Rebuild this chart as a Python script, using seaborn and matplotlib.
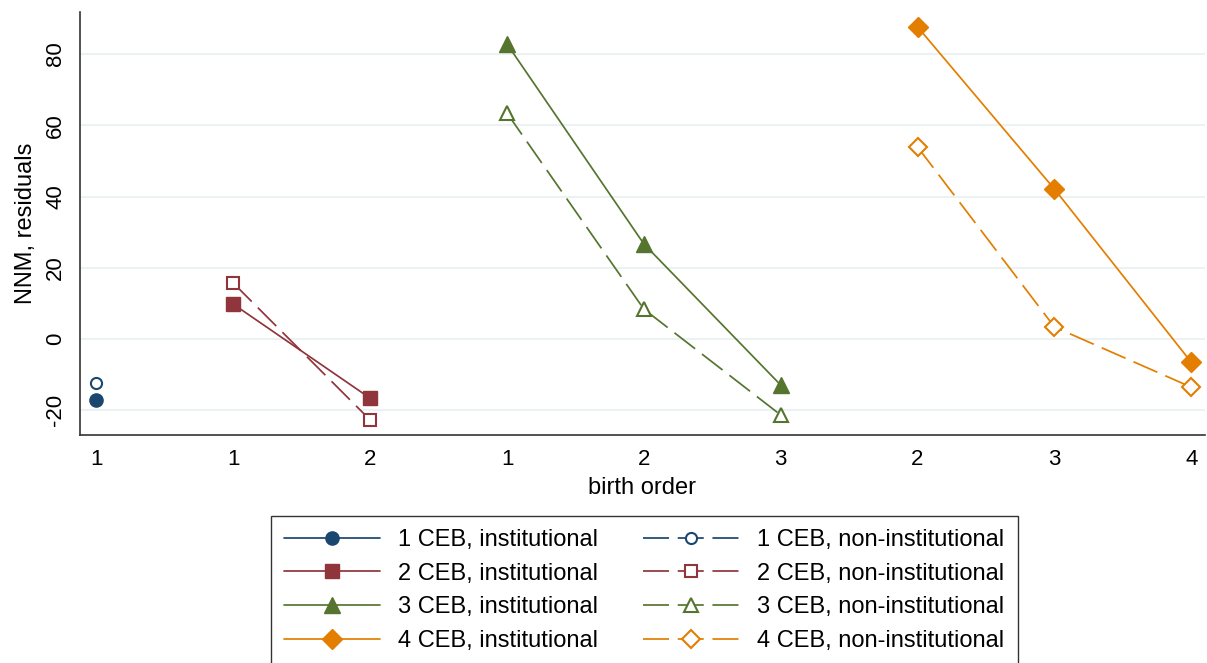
import matplotlib
matplotlib.use("Agg")
import matplotlib.pyplot as plt
import seaborn as sns
import pandas as pd
from matplotlib.lines import Line2D

# birth order labels along the x axis, grouped by number of children ever born (CEB)
ceb_groups = [1, 2, 3, 4]
birth_order = {1: [1], 2: [1, 2], 3: [1, 2, 3], 4: [2, 3, 4]}

# NNM residuals
institutional = {1: [-17.1], 2: [9.8, -16.6], 3: [82.8, 26.7, -12.9], 4: [87.6, 42.1, -6.5]}
non_institutional = {1: [-12.4], 2: [15.7, -22.7], 3: [63.4, 8.4, -21.3], 4: [53.9, 3.4, -13.5]}

tick_labels = [b for g in ceb_groups for b in birth_order[g]]

rows = []
pos = 0
for g in ceb_groups:
    for i, b in enumerate(birth_order[g]):
        rows.append({"ceb": g, "pos": pos, "birth_order": b, "delivery": "institutional",
                     "nnm": institutional[g][i]})
        rows.append({"ceb": g, "pos": pos, "birth_order": b, "delivery": "non-institutional",
                     "nnm": non_institutional[g][i]})
        pos += 1
df = pd.DataFrame(rows)

colors = {1: "#1a476f", 2: "#90353b", 3: "#55752f", 4: "#e37e00"}
markers = {1: "o", 2: "s", 3: "^", 4: "D"}
msize_full = {1: 9.5, 2: 9.5, 3: 11, 4: 10}
msize_open = {1: 8, 2: 8.5, 3: 9.5, 4: 9}
dash = (15, 5)
lw = 1.25

sns.set_style("white")
plt.rcParams["font.family"] = ["Liberation Sans", "DejaVu Sans"]
plt.rcParams["text.color"] = "black"
plt.rcParams["axes.labelcolor"] = "black"
plt.rcParams["xtick.color"] = "black"
plt.rcParams["ytick.color"] = "black"

fig = plt.figure(figsize=(12.07, 6.63), dpi=100)
ax = fig.add_axes([0.0663, 0.344, 0.932, 0.638])

handles = []
labels = []
for g in ceb_groups:
    for kind in ["institutional", "non-institutional"]:
        sub = df[(df.ceb == g) & (df.delivery == kind)]
        filled = kind == "institutional"
        ms = msize_full[g] if filled else msize_open[g]
        style = dict(color=colors[g], lw=lw, marker=markers[g], markersize=ms,
                     markerfacecolor=colors[g] if filled else "white",
                     markeredgecolor=colors[g], markeredgewidth=1.0 if filled else 1.5)
        sns.lineplot(data=sub, x="pos", y="nnm", ax=ax, dashes=False, legend=False,
                     zorder=3, **style)
        if not filled:
            ax.lines[-1].set_dashes(dash)
        h = Line2D([], [], linestyle="-" if filled else (0, dash), **style)
        handles.append(h)
        labels.append(f"{g} CEB, {kind}")

ax.set_xlim(-0.12, 8.1)
ax.set_ylim(-26.9, 91.8)
ax.set_xticks(range(len(tick_labels)))
ax.set_xticklabels([str(t) for t in tick_labels])
ax.set_yticks([-20, 0, 20, 40, 60, 80])
ax.set_yticklabels(["-20", "0", "20", "40", "60", "80"], rotation=90, va="center")
ax.yaxis.grid(True, color="#eaf2f3", lw=1.5)
ax.set_axisbelow(True)
for s in ["top", "right"]:
    ax.spines[s].set_visible(False)
for s in ["left", "bottom"]:
    ax.spines[s].set_color("#333333")
    ax.spines[s].set_linewidth(1.2)
ax.tick_params(axis="both", direction="out", length=6, width=1, color="#333333",
               labelsize=16, pad=4)
ax.set_xlabel("birth order", fontsize=17, labelpad=5)
ax.set_ylabel("NNM, residuals", fontsize=17, labelpad=6)

# column 1 = institutional, column 2 = non-institutional
order = [0, 2, 4, 6, 1, 3, 5, 7]
leg = fig.legend([handles[i] for i in order], [labels[i] for i in order],
                 loc="upper center", bbox_to_anchor=(0.5336, 0.222), ncol=2,
                 fontsize=17, frameon=True, fancybox=False, edgecolor="black",
                 handlelength=4.1, handletextpad=0.75, columnspacing=1.9,
                 labelspacing=0.5, borderpad=0.55, borderaxespad=0)
leg.get_frame().set_linewidth(1.0)

fig.savefig("out.png", dpi=100)
